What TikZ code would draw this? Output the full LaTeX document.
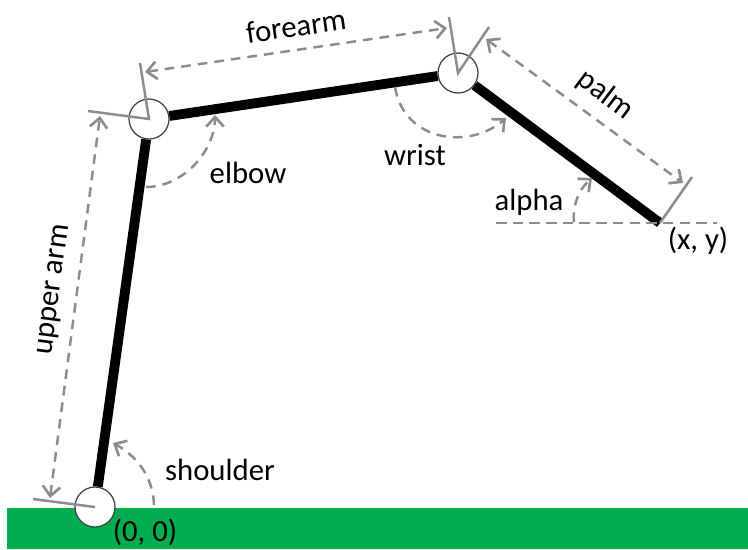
\documentclass[tikz,border=0pt]{standalone}
\usepackage{fontspec}
\setmainfont{Carlito}
\usetikzlibrary{arrows.meta}
\definecolor{ground}{HTML}{00AD4E}
\definecolor{dimgray}{HTML}{8C8C8C}
\begin{document}
\begin{tikzpicture}[
        x=0.02cm, y=-0.02cm,
        % Define styles for consistency
        joint/.style={circle, draw=black!75, fill=white, line width=0.7pt, inner sep=0pt, minimum size=0.8cm},
        link/.style={black, line width=5.6pt},
        refline/.style={dimgray, line width=1.4pt},
        dim/.style={dimgray, line width=1.4pt, dash pattern=on 5.5pt off 4pt,
            arrows={Straight Barb[length=5.5pt, width=10pt, line width=1.5pt]-Straight Barb[length=5.5pt, width=10pt, line width=1.5pt]}},
        arc/.style={dimgray, line width=1.4pt, dash pattern=on 5.5pt off 4pt,
            arrows={-Straight Barb[length=5.5pt, width=10pt, line width=1.5pt]}},
        label/.style={font=\fontsize{17.5}{20}\selectfont, text=black, inner sep=0pt}
    ]
        \useasboundingbox (0,0) rectangle (748,549);

        % --- Ground ---
        \fill[ground] (7,508) rectangle (748,549);

        % --- Joints ---
        \node[joint] (shoulder) at (95,507) {};
        \node[joint] (elbow) at (149,119) {};
        \node[joint] (wrist) at (458,73) {};
        \coordinate (hand) at (660,223);

        % --- Links ---
        \draw[link] (shoulder) -- (elbow);
        \draw[link] (elbow) -- (wrist);
        \draw[link] (wrist) -- (hand);

        % --- Reference lines ---
        \coordinate (shoulder_tick) at (33,499);
        \coordinate (elbow_tick_a) at (88,111);
        \coordinate (elbow_tick_b) at (140,63);
        \coordinate (wrist_tick_a) at (449,17);
        \coordinate (wrist_tick_b) at (489,27);
        \coordinate (hand_tick) at (692,177);
        \draw[refline] (shoulder.center) -- (shoulder_tick);
        \draw[refline] (elbow_tick_a) -- (elbow.center) -- (elbow_tick_b);
        \draw[refline] (wrist_tick_a) -- (wrist.center) -- (wrist_tick_b);
        \draw[refline] (hand) -- (hand_tick);

        % Horizontal through the hand
        \coordinate (horiz_left) at (496,223);
        \coordinate (horiz_right) at (717,223);
        \draw[refline, dash pattern=on 6pt off 3.5pt] (horiz_left) -- (horiz_right);

        % --- Lengths ---
        \coordinate (upper_a) at (50,498);
        \coordinate (upper_b) at (100,116);
        \coordinate (fore_a) at (145,72);
        \coordinate (fore_b) at (447,28);
        \coordinate (palm_a) at (486,39);
        \coordinate (palm_b) at (683,183);
        \draw[dim] (upper_a) -- (upper_b);
        \draw[dim] (fore_a) -- (fore_b);
        \draw[dim] (palm_a) -- (palm_b);

        % --- Angles ---
        \coordinate (sh_a) at (154,505);
        \coordinate (sh_b) at (113,443);
        \coordinate (el_a) at (146,187);
        \coordinate (el_b) at (215,115);
        \coordinate (wr_a) at (395,87);
        \coordinate (wr_b) at (506,118);
        \coordinate (al_a) at (574,222);
        \coordinate (al_b) at (592,178);
        \draw[arc] (sh_a) .. controls (153,475) and (135,455) .. (sh_b);
        \draw[arc] (el_a) .. controls (184,187) and (215,150) .. (el_b);
        \draw[arc] (wr_a) .. controls (404,142) and (470,150) .. (wr_b);
        \draw[arc] (al_a) .. controls (572,205) and (580,188) .. (al_b);

        % --- Labels ---
        \node[label, rotate=82.5] (upper_label) at (55,290) {upper arm};
        \node[label, rotate=8] (fore_label) at (296,26) {forearm};
        \node[label, rotate=-37] (palm_label) at (605,95) {palm};
        \node[label] (elbow_label) at (248,173) {elbow};
        \node[label] (wrist_label) at (415,155) {wrist};
        \node[label] (alpha_label) at (529,202) {alpha};
        \node[label] (shoulder_label) at (220,470) {shoulder};
        \node[label] (origin_label) at (145,532) {(0, 0)};
        \node[label] (hand_label) at (698,241) {(x, y)};

    \end{tikzpicture}
\end{document}
